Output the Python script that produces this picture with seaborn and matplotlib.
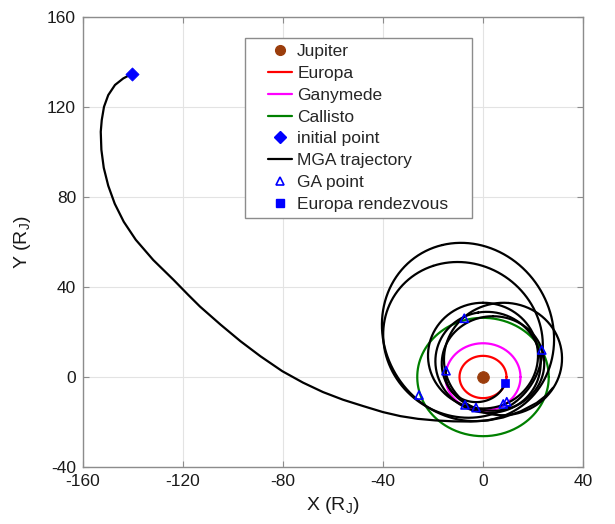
import numpy as np
import matplotlib
matplotlib.use("Agg")
import matplotlib.pyplot as plt
from matplotlib.lines import Line2D
from matplotlib.patches import Rectangle
import seaborn as sns

# ---------------- data ----------------
# moon orbit radii (R_J)
moon_names = ["Europa", "Ganymede", "Callisto"]
moon_radius = [9.4, 15.0, 26.3]
moon_colors = ["red", "magenta", "green"]

inc_x = [-140.5, -143.9, -147.2, -149.9, -151.6, -152.5, -152.9, -152.65, -151.7,
         -149.9, -147.3, -143.7, -138.9, -131.9, -123.8, -118.0, -113.2, -105.0,
         -97.0, -89.0, -80.3, -72.0, -64.0, -56.0, -48.0, -40.0, -33.0, -26.0,
         -19.0, -12.0, -5.0, 2.0, 8.0, 15.0, 21.5, 25.5, 28.0]
inc_y = [134.7, 132.7, 129.8, 125.3, 120.1, 114.2, 109.0, 101.0, 93.0,
         85.0, 77.0, 69.0, 61.0, 52.0, 43.2, 36.6, 31.3, 23.3,
         15.9, 9.2, 2.6, -2.5, -6.7, -10.1, -12.9, -15.6, -17.4, -18.6,
         -19.3, -19.7, -19.8, -19.3, -18.0, -15.3, -11.5, -8.0, -4.8]

# capture loops: centre x, centre y, semi-axis a, semi-axis b, tilt (deg)
loop_cx = [-6.0, -8.0, 0.0, 8.0, 4.0, 2.0]
loop_cy = [20.0, 16.5, 9.5, 8.0, 6.0, 6.5]
loop_a = [40.0, 35.0, 23.5, 25.0, 21.0, 22.5]
loop_b = [34.0, 31.5, 22.0, 23.6, 20.5, 21.0]
loop_tilt = [105.0, 110.0, 90.0, 85.0, 90.0, 100.0]

# final leg to Europa: periapsis radius, apoapsis radius, periapsis angle, start/end angle (deg)
fin_rp, fin_ra, fin_w = 9.2, 15.0, -12.0
fin_start, fin_end = 169.0, 344.0

# markers
jup_x, jup_y = [0.0], [0.0]
init_x, init_y = [-140.5], [134.7]
ga_x = [-25.6, -7.5, -14.8, 23.5, -7.2, -2.8, 8.1, 9.5]
ga_y = [-8.0, 26.1, 2.8, 12.0, -12.4, -13.6, -12.0, -11.0]
rdv_x, rdv_y = [8.8], [-2.5]

x_ticks = [-160, -120, -80, -40, 0, 40]
y_ticks = [-40, 0, 40, 80, 120, 160]

# ---------------- style ----------------
sns.set_theme(style="whitegrid")
plt.rcParams["font.family"] = ["Liberation Sans", "DejaVu Sans"]
plt.rcParams["mathtext.fontset"] = "custom"
plt.rcParams["mathtext.rm"] = "Liberation Sans"
plt.rcParams["mathtext.it"] = "Liberation Sans:italic"
plt.rcParams["axes.unicode_minus"] = False

fig = plt.figure(figsize=(6.15, 5.24), dpi=100)
ax = fig.add_axes([83 / 615, 1 - 467 / 524, 500 / 615, 450 / 524])
ax.set_facecolor("white")

lw = 1.6
t = np.linspace(0, 2 * np.pi, 361)

# moon orbits
for name, r, c in zip(moon_names, moon_radius, moon_colors):
    sns.lineplot(x=r * np.cos(t), y=r * np.sin(t), sort=False, estimator=None,
                 color=c, lw=lw, ax=ax)

# trajectory
sns.lineplot(x=inc_x, y=inc_y, sort=False, estimator=None, color="black", lw=lw, ax=ax)
for cx, cy, a, b, tl in zip(loop_cx, loop_cy, loop_a, loop_b, loop_tilt):
    th = np.deg2rad(tl)
    ex = cx + a * np.cos(t) * np.cos(th) - b * np.sin(t) * np.sin(th)
    ey = cy + a * np.cos(t) * np.sin(th) + b * np.sin(t) * np.cos(th)
    sns.lineplot(x=ex, y=ey, sort=False, estimator=None, color="black", lw=lw, ax=ax)
phi = np.deg2rad(np.linspace(fin_start, fin_end, 120))
fin_a = (fin_rp + fin_ra) / 2
fin_e = (fin_ra - fin_rp) / (fin_ra + fin_rp)
fin_p = fin_a * (1 - fin_e ** 2)
fin_r = fin_p / (1 + fin_e * np.cos(phi - np.deg2rad(fin_w)))
sns.lineplot(x=fin_r * np.cos(phi), y=fin_r * np.sin(phi), sort=False, estimator=None,
             color="black", lw=lw, ax=ax)

# markers
jup_c = "#9b3d0c"
sns.scatterplot(x=jup_x, y=jup_y, color=jup_c, s=70, edgecolor=jup_c, ax=ax, zorder=5)
sns.scatterplot(x=init_x, y=init_y, marker="D", color="blue", s=45, edgecolor="blue", ax=ax, zorder=5)
ax.scatter(ga_x, ga_y, marker="^", s=34, facecolors="none", edgecolors="blue",
           linewidths=1.2, zorder=6)
sns.scatterplot(x=rdv_x, y=rdv_y, marker="s", color="blue", s=40, edgecolor="blue", ax=ax, zorder=6)

# axes
ax.set_xlim(-160, 40)
ax.set_ylim(-40, 160)
ax.set_xticks(x_ticks)
ax.set_yticks(y_ticks)
ax.grid(True, color="#e3e3e3", lw=0.8)
for s in ax.spines.values():
    s.set_visible(True)
    s.set_color("#8c8c8c")
    s.set_linewidth(1.0)
ax.tick_params(direction="in", length=4, width=0.8, color="#8c8c8c",
               top=True, right=True, bottom=True, left=True,
               labelsize=12.5, labelcolor="#1a1a1a", pad=5)
ax.set_xlabel(r"X (R$_\mathrm{J}$)", fontsize=14, color="#1a1a1a", labelpad=4)
ax.set_ylabel(r"Y (R$_\mathrm{J}$)", fontsize=14, color="#1a1a1a", labelpad=10)

# legend frame (drawn separately to get MATLAB-like padding)
ax.add_patch(Rectangle((0.324, 0.5533), 0.778 - 0.324, 0.9533 - 0.5533,
                       transform=ax.transAxes, facecolor="white", edgecolor="#8c8c8c",
                       lw=1.0, zorder=7))

handles = [
    Line2D([], [], ls="none", marker="o", color=jup_c, ms=7),
    Line2D([], [], color="red", lw=lw),
    Line2D([], [], color="magenta", lw=lw),
    Line2D([], [], color="green", lw=lw),
    Line2D([], [], ls="none", marker="D", color="blue", ms=6),
    Line2D([], [], color="black", lw=lw),
    Line2D([], [], ls="none", marker="^", mfc="none", mec="blue", mew=1.2, ms=5.5),
    Line2D([], [], ls="none", marker="s", color="blue", ms=5.5),
]
labels = ["Jupiter", "Europa", "Ganymede", "Callisto", "initial point",
          "MGA trajectory", "GA point", "Europa rendezvous"]
leg = ax.legend(handles, labels, loc="upper left", bbox_to_anchor=(0.37, 0.94),
                fontsize=12.5, frameon=False, handlelength=1.38, handletextpad=0.3,
                labelspacing=0.385, borderpad=0, borderaxespad=0)
leg.set_zorder(8)

fig.savefig("out.png", dpi=100, facecolor="white")
